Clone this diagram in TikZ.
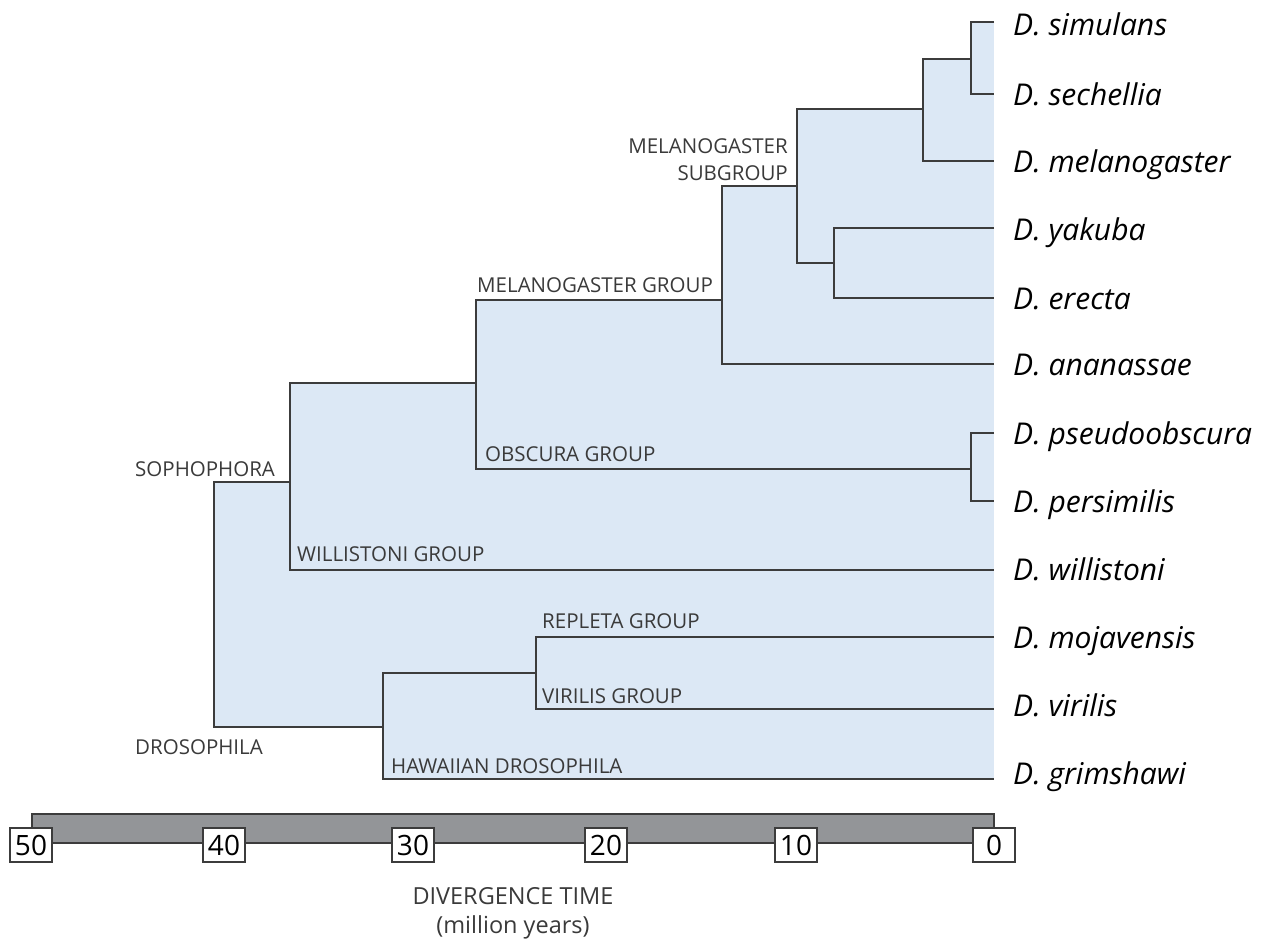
\documentclass[tikz,border=0pt]{standalone}
\usepackage{fontspec}
\setmainfont{Open Sans}
\definecolor{fillc}{HTML}{DCE8F5}
\definecolor{linec}{HTML}{3C3C3C}
\definecolor{barc}{HTML}{939598}
\definecolor{labc}{HTML}{3A3A3A}
\begin{document}
\begin{tikzpicture}[x=1pt,y=-1pt,
  branch/.style={draw=linec,line width=1.3pt,line join=miter},
  clade/.style={fill=fillc},
  grp/.style={font=\fontsize{20.5}{24}\selectfont,text=labc,inner sep=0pt,anchor=base west},
  sp/.style={font=\fontsize{30}{34}\selectfont\itshape,text=black,inner sep=0pt,anchor=base west},
  tickbox/.style={draw=linec,fill=white,line width=1.2pt,minimum width=42pt,minimum height=34pt,inner sep=0pt,font=\fontsize{28}{30}\selectfont},
  axlab/.style={font=\fontsize{23.5}{26}\selectfont,text=labc,inner sep=0pt}]
\useasboundingbox (0,0) rectangle (1261,942);
% leaf tips
\coordinate (sim) at (994,22);
\coordinate (sech) at (994,94);
\coordinate (mel) at (994,161);
\coordinate (yak) at (994,228);
\coordinate (ere) at (994,298);
\coordinate (ana) at (994,364);
\coordinate (pse) at (994,433);
\coordinate (per) at (994,501);
\coordinate (wil) at (994,570);
\coordinate (moj) at (994,637);
\coordinate (vir) at (994,709);
\coordinate (gri) at (994,779);
% internal nodes
\coordinate (ss) at (971,59);
\coordinate (ssm) at (923,109);
\coordinate (ye) at (834,263);
\coordinate (msub) at (797,186);
\coordinate (mgrp) at (722,300);
\coordinate (obs) at (971,469);
\coordinate (mo) at (476,383);
\coordinate (soph) at (290,482);
\coordinate (rv) at (536,673);
\coordinate (haw) at (383,727);
\coordinate (root) at (214,600);
% shaded clades
\fill[clade] (ss |- sim) rectangle (sech);
\fill[clade] (ssm |- ss) rectangle (mel);
\fill[clade] (ye |- yak) rectangle (ere);
\fill[clade] (msub |- ssm) rectangle (ye -| sim);
\fill[clade] (mgrp |- msub) rectangle (ana);
\fill[clade] (obs |- pse) rectangle (per);
\fill[clade] (mo |- mgrp) rectangle (obs -| sim);
\fill[clade] (soph |- mo) rectangle (wil);
\fill[clade] (rv |- moj) rectangle (vir);
\fill[clade] (haw |- rv) rectangle (gri);
\fill[clade] (root |- soph) rectangle (haw -| sim);
% branches
\draw[branch] (sim) -| (ss) |- (sech);
\draw[branch] (ss) -| (ssm) |- (mel);
\draw[branch] (yak) -| (ye) |- (ere);
\draw[branch] (ssm) -| (msub) |- (ye);
\draw[branch] (msub) -| (mgrp) |- (ana);
\draw[branch] (pse) -| (obs) |- (per);
\draw[branch] (mgrp) -| (mo) |- (obs);
\draw[branch] (mo) -| (soph) |- (wil);
\draw[branch] (moj) -| (rv) |- (vir);
\draw[branch] (rv) -| (haw) |- (gri);
\draw[branch] (soph) -| (root) |- (haw);
% species labels
\node[sp] (lsim) at (1013,36) {D. simulans};
\node[sp] (lsech) at (1013,105) {D. sechellia};
\node[sp] (lmel) at (1013,172) {D. melanogaster};
\node[sp] (lyak) at (1013,240) {D. yakuba};
\node[sp] (lere) at (1013,309) {D. erecta};
\node[sp] (lana) at (1013,375) {D. ananassae};
\node[sp] (lpse) at (1013,444) {D. pseudoobscura};
\node[sp] (lper) at (1013,512) {D. persimilis};
\node[sp] (lwil) at (1013,580) {D. willistoni};
\node[sp] (lmoj) at (1013,648) {D. mojavensis};
\node[sp] (lvir) at (1013,716) {D. virilis};
\node[sp] (lgri) at (1013,784) {D. grimshawi};
% group labels
\node[grp,anchor=base east] (gsub1) at (788,153) {MELANOGASTER};
\node[grp,anchor=base east] (gsub2) at (788,180) {SUBGROUP};
\node[grp] (gmel) at (477,292) {MELANOGASTER GROUP};
\node[grp] (gobs) at (485,461) {OBSCURA GROUP};
\node[grp] (gsoph) at (135,476) {SOPHOPHORA};
\node[grp] (gwil) at (297,561) {WILLISTONI GROUP};
\node[grp] (grep) at (542,628) {REPLETA GROUP};
\node[grp] (gvir) at (542,703) {VIRILIS GROUP};
\node[grp] (gdro) at (135,754) {DROSOPHILA};
\node[grp] (ghaw) at (391,773) {HAWAIIAN DROSOPHILA};
% time axis
\draw[draw=linec,fill=barc,line width=1.2pt] (32,814) rectangle (994,843);
\node[tickbox] (t50) at (31,845) {50};
\node[tickbox] (t40) at (224,845) {40};
\node[tickbox] (t30) at (413,845) {30};
\node[tickbox] (t20) at (606,845) {20};
\node[tickbox] (t10) at (796,845) {10};
\node[tickbox] (t0) at (994,845) {0};
\node[axlab] (axt) at (513,896) {DIVERGENCE TIME};
\node[axlab] (axu) at (513,927) {(million years)};
\end{tikzpicture}
\end{document}
